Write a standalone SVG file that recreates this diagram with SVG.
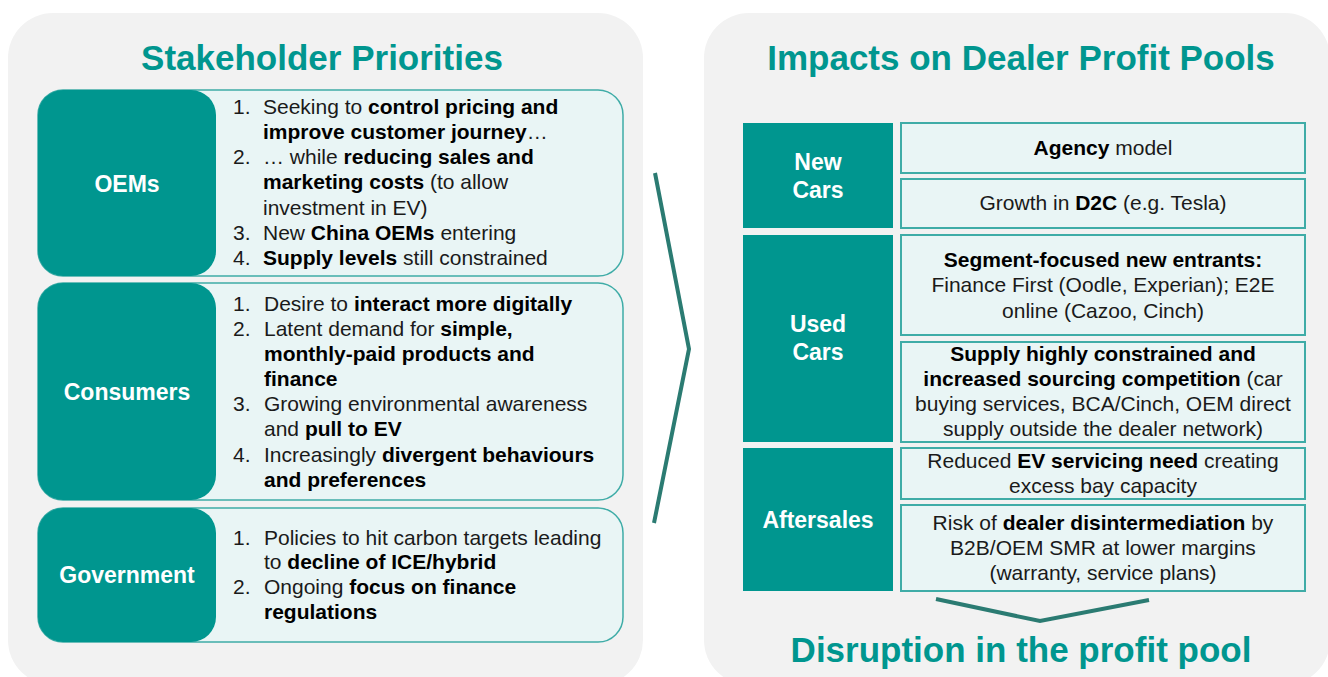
<svg xmlns="http://www.w3.org/2000/svg" width="1328" height="677" viewBox="0 0 1328 677">
<style>
text{font-family:"Liberation Sans",Arial,sans-serif}
.panel{fill:#F2F2F2}
.title{font-size:35px;font-weight:bold;fill:#00968F}
.dark{fill:#00968F}
.light{fill:#E9F5F5;stroke:#3FACA7;stroke-width:1.5}
.cell{fill:#E9F5F5;stroke:#3FACA7;stroke-width:2}
.lbl{font-size:23px;font-weight:bold;fill:#FFFFFF;text-anchor:middle}
.t{font-size:21px;fill:#1A1A1A}
.c{font-size:21px;fill:#1A1A1A;text-anchor:middle}
.b{font-weight:bold;fill:#000}
.chev{fill:none;stroke:#2B7B72;stroke-width:4;stroke-linejoin:miter}
</style>
<rect width="1328" height="677" fill="#FFFFFF"/>
<g id="left-panel">
<rect class="panel" x="8" y="13" width="635" height="672" rx="45"/>
<text class="title" x="322" y="70" text-anchor="middle">Stakeholder Priorities</text>
</g>
<g id="right-panel">
<rect class="panel" x="704" y="13" width="626" height="672" rx="45"/>
<text class="title" x="1021" y="70" text-anchor="middle">Impacts on Dealer Profit Pools</text>
</g>
<g id="oems">
<rect class="light" x="38" y="90" width="585" height="186" rx="25"/>
<rect class="dark" x="38" y="90" width="178" height="186" rx="25"/>
<text class="lbl" x="127" y="192">OEMs</text>
<text class="t" x="233" y="114">1.</text>
<text class="t" x="263" y="114">Seeking to <tspan class="b">control pricing and</tspan></text>
<text class="t" x="263" y="139"><tspan class="b">improve customer journey</tspan>…</text>
<text class="t" x="233" y="164">2.</text>
<text class="t" x="263" y="164">… while <tspan class="b">reducing sales and</tspan></text>
<text class="t" x="263" y="189"><tspan class="b">marketing costs</tspan> (to allow</text>
<text class="t" x="263" y="215">investment in EV)</text>
<text class="t" x="233" y="240">3.</text>
<text class="t" x="263" y="240">New <tspan class="b">China OEMs</tspan> entering</text>
<text class="t" x="233" y="265">4.</text>
<text class="t" x="263" y="265"><tspan class="b">Supply levels</tspan> still constrained</text>
</g>
<g id="consumers">
<rect class="light" x="38" y="283" width="585" height="217" rx="25"/>
<rect class="dark" x="38" y="283" width="178" height="217" rx="25"/>
<text class="lbl" x="127" y="400">Consumers</text>
<text class="t" x="233" y="311">1.</text>
<text class="t" x="264" y="311">Desire to <tspan class="b">interact more digitally</tspan></text>
<text class="t" x="233" y="336">2.</text>
<text class="t" x="264" y="336">Latent demand for <tspan class="b">simple,</tspan></text>
<text class="t" x="264" y="361"><tspan class="b">monthly-paid products and</tspan></text>
<text class="t" x="264" y="386"><tspan class="b">finance</tspan></text>
<text class="t" x="233" y="411">3.</text>
<text class="t" x="264" y="411">Growing environmental awareness</text>
<text class="t" x="264" y="436">and <tspan class="b">pull to EV</tspan></text>
<text class="t" x="233" y="462">4.</text>
<text class="t" x="264" y="462">Increasingly <tspan class="b">divergent behaviours</tspan></text>
<text class="t" x="264" y="487"><tspan class="b">and preferences</tspan></text>
</g>
<g id="government">
<rect class="light" x="38" y="508" width="585" height="134" rx="25"/>
<rect class="dark" x="38" y="508" width="178" height="134" rx="25"/>
<text class="lbl" x="127" y="583">Government</text>
<text class="t" x="233" y="545">1.</text>
<text class="t" x="264" y="545">Policies to hit carbon targets leading</text>
<text class="t" x="264" y="569">to <tspan class="b">decline of ICE/hybrid</tspan></text>
<text class="t" x="233" y="594">2.</text>
<text class="t" x="264" y="594">Ongoing <tspan class="b">focus on finance</tspan></text>
<text class="t" x="264" y="619"><tspan class="b">regulations</tspan></text>
</g>
<g id="new-cars">
<rect class="dark" x="743" y="123" width="150" height="105"/>
<text class="lbl" x="818" y="170">New</text>
<text class="lbl" x="818" y="198">Cars</text>
<rect class="cell" x="901" y="123" width="404" height="50"/>
<text class="c" x="1103" y="155"><tspan class="b">Agency</tspan> model</text>
<rect class="cell" x="901" y="179" width="404" height="49"/>
<text class="c" x="1103" y="210">Growth in <tspan class="b">D2C</tspan> (e.g. Tesla)</text>
</g>
<g id="used-cars">
<rect class="dark" x="743" y="235" width="150" height="207"/>
<text class="lbl" x="818" y="332">Used</text>
<text class="lbl" x="818" y="360">Cars</text>
<rect class="cell" x="901" y="235" width="404" height="100"/>
<text class="c" x="1103" y="267"><tspan class="b">Segment-focused new entrants:</tspan></text>
<text class="c" x="1103" y="292">Finance First (Oodle, Experian); E2E</text>
<text class="c" x="1103" y="318">online (Cazoo, Cinch)</text>
<rect class="cell" x="901" y="342" width="404" height="100"/>
<text class="c" x="1103" y="361"><tspan class="b">Supply highly constrained and</tspan></text>
<text class="c" x="1103" y="386"><tspan class="b">increased sourcing competition</tspan> (car</text>
<text class="c" x="1103" y="411">buying services, BCA/Cinch, OEM direct</text>
<text class="c" x="1103" y="436">supply outside the dealer network)</text>
</g>
<g id="aftersales">
<rect class="dark" x="743" y="448" width="150" height="143"/>
<text class="lbl" x="818" y="528">Aftersales</text>
<rect class="cell" x="901" y="448" width="404" height="51"/>
<text class="c" x="1103" y="468">Reduced <tspan class="b">EV servicing need</tspan> creating</text>
<text class="c" x="1103" y="493">excess bay capacity</text>
<rect class="cell" x="901" y="505" width="404" height="86"/>
<text class="c" x="1103" y="530">Risk of <tspan class="b">dealer disintermediation</tspan> by</text>
<text class="c" x="1103" y="555">B2B/OEM SMR at lower margins</text>
<text class="c" x="1103" y="580">(warranty, service plans)</text>
</g>
<g id="connectors">
<polyline class="chev" points="655,173 689,349 654,523"/>
<polyline class="chev" points="936,599 1040,621 1149,600"/>
</g>
<g id="outcome">
<text class="title" x="1021" y="662" text-anchor="middle">Disruption in the profit pool</text>
</g>
</svg>
